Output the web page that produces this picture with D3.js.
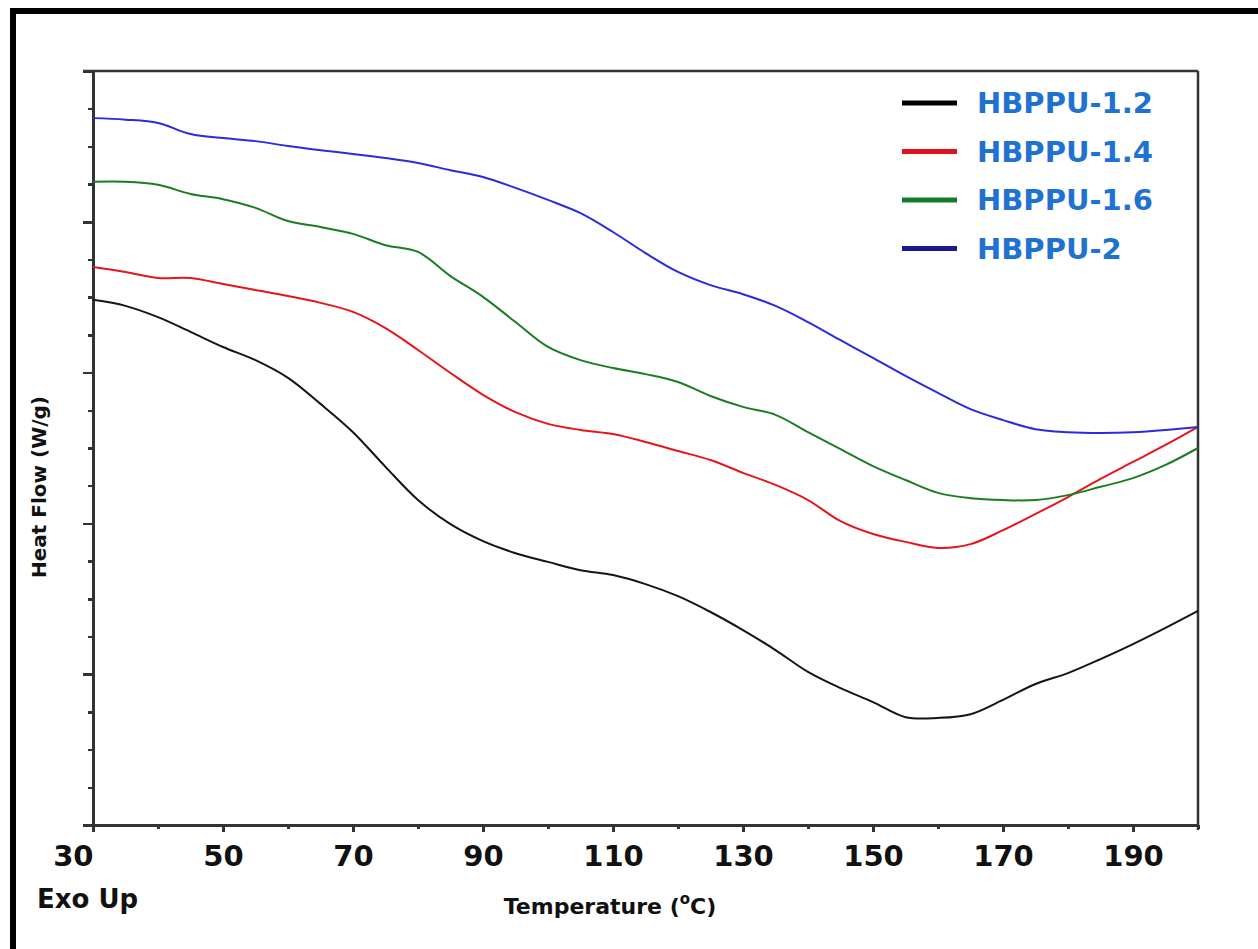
<!DOCTYPE html>
<html>
<head>
<meta charset="utf-8">
<script src="https://cdn.jsdelivr.net/npm/d3@7"></script>
<style>
  body { margin: 0; background: #fff; }
  svg { display: block; }
  .axis text { font-family: "DejaVu Sans", Verdana, sans-serif; font-weight: bold; fill: #111; }
  .axis path, .axis line { stroke: #333; stroke-width: 2.5; shape-rendering: crispEdges; }
</style>
</head>
<body>
<script>
// DSC curves (arbitrary heat flow units, exo up)
var temps = [30, 35, 40, 45, 50, 55, 60, 65, 70, 75, 80, 85, 90, 95, 100, 105, 110, 115, 120,
             125, 130, 135, 140, 145, 150, 155, 160, 165, 170, 175, 180, 185, 190, 195, 200];

var hbppu12 = [13.93, 13.77, 13.47, 13.08, 12.68, 12.33, 11.86, 11.17, 10.42, 9.50, 8.62, 7.98,
               7.53, 7.21, 6.98, 6.76, 6.63, 6.39, 6.07, 5.65, 5.17, 4.64, 4.06, 3.63, 3.26, 2.86,
               2.84, 2.94, 3.32, 3.74, 4.03, 4.40, 4.80, 5.23, 5.68];
var hbppu14 = [14.80, 14.67, 14.51, 14.51, 14.35, 14.19, 14.03, 13.85, 13.61, 13.18, 12.60, 11.99,
               11.41, 10.95, 10.64, 10.48, 10.37, 10.16, 9.92, 9.68, 9.34, 9.02, 8.62, 8.06, 7.72,
               7.51, 7.35, 7.45, 7.82, 8.25, 8.70, 9.18, 9.63, 10.08, 10.56];
var hbppu16 = [17.06, 17.06, 16.98, 16.74, 16.60, 16.37, 16.02, 15.86, 15.68, 15.38, 15.20, 14.56,
               14.01, 13.34, 12.68, 12.33, 12.12, 11.96, 11.75, 11.38, 11.09, 10.88, 10.42, 9.97,
               9.52, 9.15, 8.81, 8.67, 8.62, 8.62, 8.75, 8.97, 9.20, 9.55, 10.00];
var hbppu2 = [18.75, 18.71, 18.62, 18.33, 18.22, 18.14, 18.01, 17.90, 17.80, 17.69, 17.56, 17.37,
              17.19, 16.90, 16.58, 16.23, 15.73, 15.17, 14.67, 14.32, 14.08, 13.77, 13.34, 12.86,
              12.39, 11.91, 11.46, 11.03, 10.74, 10.50, 10.42, 10.40, 10.42, 10.48, 10.56];

var seriesNames = ["HBPPU-1.2", "HBPPU-1.4", "HBPPU-1.6", "HBPPU-2"];
var seriesValues = [hbppu12, hbppu14, hbppu16, hbppu2];
var lineColors = ["#151515", "#e8141c", "#1c7c24", "#2a2ae0"];
var legendColors = ["#000000", "#e0101c", "#127a28", "#1a1a8c"];

var xTicks = [30, 40, 50, 60, 70, 80, 90, 100, 110, 120, 130, 140, 150, 160, 170, 180, 190, 200];
var xLabels = [30, 50, 70, 90, 110, 130, 150, 170, 190];
var yTicks = [0, 1, 2, 3, 4, 5, 6, 7, 8, 9, 10, 11, 12, 13, 14, 15, 16, 17, 18, 19, 20];

var width = 1258, height = 949;
var margin = {top: 71, right: 60, bottom: 124, left: 93};

var svg = d3.select("body").append("svg")
    .attr("width", width)
    .attr("height", height);

// thick black border (left and top only, the image is cropped)
svg.append("rect").attr("x", 10).attr("y", 8).attr("width", 6).attr("height", height - 8).attr("fill", "#000");
svg.append("rect").attr("x", 10).attr("y", 8).attr("width", width - 10).attr("height", 6).attr("fill", "#000");

var x = d3.scaleLinear()
    .domain([30, 200])
    .range([margin.left, width - margin.right]);

var y = d3.scaleLinear()
    .domain([0, 20])
    .range([height - margin.bottom, margin.top]);

// x axis
var xAxis = svg.append("g")
    .attr("class", "axis")
    .attr("transform", "translate(0," + y(0) + ")")
    .call(d3.axisBottom(x)
        .tickValues(xTicks)
        .tickSizeOuter(0)
        .tickFormat(function(d){ return xLabels.indexOf(d) >= 0 ? d : ""; }));

xAxis.selectAll(".tick line")
    .attr("y2", function(d){ return xLabels.indexOf(d) >= 0 ? 7 : 4; });
xAxis.selectAll(".tick text")
    .style("font-size", "29px")
    .attr("y", 20)
    .attr("dy", "0.71em")
    .attr("text-anchor", function(d){ return d == 30 ? "end" : "middle"; });

// y axis (no labels)
var yAxis = svg.append("g")
    .attr("class", "axis")
    .attr("transform", "translate(" + x(30) + ",0)")
    .call(d3.axisLeft(y)
        .tickValues(yTicks)
        .tickSizeOuter(0)
        .tickFormat(""));

yAxis.selectAll(".tick line")
    .attr("x2", function(d){ return d % 4 == 0 ? -10 : -5; });

// top and right frame
svg.append("line")
    .attr("x1", x(30) - 10).attr("x2", x(200))
    .attr("y1", y(20)).attr("y2", y(20))
    .attr("stroke", "#333").attr("stroke-width", 2.5);
svg.append("line")
    .attr("x1", x(200)).attr("x2", x(200))
    .attr("y1", y(20)).attr("y2", y(0) + 5)
    .attr("stroke", "#333").attr("stroke-width", 2.5);

// curves
var line = d3.line()
    .x(function(d, i){ return x(temps[i]); })
    .y(function(d){ return y(d); })
    .curve(d3.curveCatmullRom);

svg.selectAll(".curve")
    .data(seriesValues)
    .enter()
    .append("path")
    .attr("class", "curve")
    .attr("fill", "none")
    .attr("stroke", function(d, i){ return lineColors[i]; })
    .attr("stroke-width", 2)
    .attr("d", line);

// legend
var legend = svg.selectAll(".legend")
    .data(seriesNames)
    .enter()
    .append("g")
    .attr("class", "legend")
    .attr("transform", function(d, i){ return "translate(902," + (103 + i * 48.5) + ")"; });

legend.append("line")
    .attr("x1", 0).attr("x2", 55)
    .attr("stroke", function(d, i){ return legendColors[i]; })
    .attr("stroke-width", 5);

legend.append("text")
    .attr("x", 75)
    .attr("dy", "0.36em")
    .style("font-family", "'DejaVu Sans', Verdana, sans-serif")
    .style("font-weight", "bold")
    .style("font-size", "29px")
    .style("fill", "#1f72d0")
    .text(function(d){ return d; });

// axis titles
svg.append("text")
    .attr("transform", "translate(46," + 487 + ") rotate(-90)")
    .attr("text-anchor", "middle")
    .style("font-family", "'DejaVu Sans', Verdana, sans-serif")
    .style("font-weight", "bold")
    .style("font-size", "20px")
    .style("fill", "#111")
    .text("Heat Flow (W/g)");

var xTitle = svg.append("text")
    .attr("x", 610)
    .attr("y", 914)
    .attr("text-anchor", "middle")
    .style("font-family", "'DejaVu Sans', Verdana, sans-serif")
    .style("font-weight", "bold")
    .style("font-size", "22px")
    .style("fill", "#111");
xTitle.append("tspan").text("Temperature (");
xTitle.append("tspan").attr("dy", -10).style("font-size", "15px").text("o");
xTitle.append("tspan").attr("dy", 10).text("C)");

svg.append("text")
    .attr("x", 37)
    .attr("y", 908)
    .style("font-family", "'DejaVu Sans', Verdana, sans-serif")
    .style("font-weight", "bold")
    .style("font-size", "26px")
    .style("fill", "#111")
    .text("Exo Up");
</script>
</body>
</html>
